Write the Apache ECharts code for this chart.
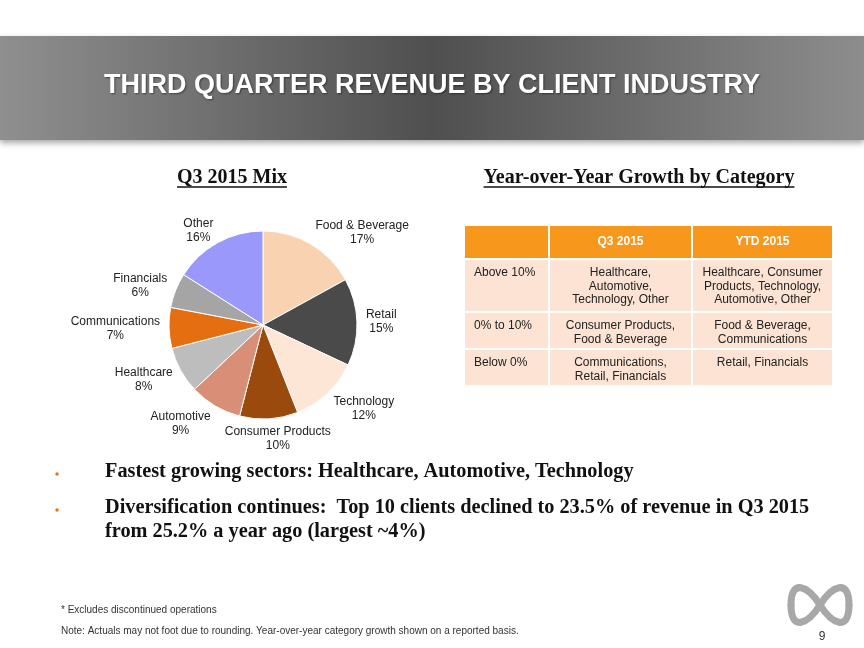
<!DOCTYPE html>
<html>
<head>
<meta charset="utf-8">
<script src="https://cdn.jsdelivr.net/npm/echarts/dist/echarts.min.js"></script>
<style>
html,body{margin:0;padding:0;background:#fff;}
#chart{width:864px;height:648px;}
</style>
</head>
<body>
<div id="chart"></div>
<script>
// ---- data ----
const pieCategories = ['Food & Beverage','Retail','Technology','Consumer Products','Automotive','Healthcare','Communications','Financials','Other'];
const pieValues = [17,15,12,10,9,8,7,6,16];
const pieColors = ['#f9d2b2','#4a4a4a','#fde6d6','#994a0c','#d98f77','#bdbdbd','#e56f10','#a5a5a5','#9a99fb'];

const tableHeaders = ['', 'Q3 2015', 'YTD 2015'];
const tableRowLabels = ['Above 10%', '0% to 10%', 'Below 0%'];
const tableQ3 = ['Healthcare,\nAutomotive,\nTechnology, Other', 'Consumer Products,\nFood & Beverage', 'Communications,\nRetail, Financials'];
const tableYTD = ['Healthcare, Consumer\nProducts, Technology,\nAutomotive, Other', 'Food & Beverage,\nCommunications', 'Retail, Financials'];

const titleText = 'THIRD QUARTER REVENUE BY CLIENT INDUSTRY';
const leftHeading = 'Q3 2015 Mix';
const rightHeading = 'Year-over-Year Growth by Category';
const bullets = [
  ['Fastest growing sectors: Healthcare, Automotive, Technology'],
  ['Diversification continues:  Top 10 clients declined to 23.5% of revenue in Q3 2015', 'from 25.2% a year ago (largest ~4%)']
];
const footnotes = ['* Excludes discontinued operations', 'Note: Actuals may not foot due to rounding. Year-over-year category growth shown on a reported basis.'];
const pageNumber = '9';

// ---- helpers ----
const SANS = 'Liberation Sans, Arial, sans-serif';
const SERIF = 'Liberation Serif, Times New Roman, serif';
const mctx = document.createElement('canvas').getContext('2d');
function textWidth(t, font){ mctx.font = font; return mctx.measureText(t).width; }

const chart = echarts.init(document.getElementById('chart'), null, {renderer:'canvas'});
const graphics = [];

// header band
graphics.push({
  type:'rect', shape:{x:0,y:36,width:864,height:104}, z:0,
  style:{
    fill:new echarts.graphic.LinearGradient(0,0,1,0,[
      {offset:0,color:'#8f8f8f'},{offset:0.5,color:'#4f4f4f'},{offset:1,color:'#8d8d8d'}
    ]),
    shadowBlur:6, shadowColor:'rgba(0,0,0,0.35)', shadowOffsetY:3
  }
});
graphics.push({
  type:'text', x:432, y:86, z:2,
  style:{text:titleText, fill:'#ffffff', font:'bold 27px '+SANS, align:'center', verticalAlign:'middle',
    textShadowColor:'rgba(0,0,0,0.45)', textShadowBlur:2, textShadowOffsetX:1, textShadowOffsetY:1}
});

// headings with underline
function heading(t, cx, cy){
  const font = 'bold 20px ' + SERIF;
  const w = textWidth(t, font);
  graphics.push({type:'text', x:cx, y:cy, style:{text:t, fill:'#111', font:font, align:'center', verticalAlign:'middle'}});
  graphics.push({type:'line', shape:{x1:cx-w/2, y1:cy+9, x2:cx+w/2, y2:cy+9}, style:{stroke:'#111', lineWidth:1.5}});
}
heading(leftHeading, 232, 178);
heading(rightHeading, 639, 178);

// table
const colX = [465, 550, 693, 834];
const rowY = [226, 260, 313, 350, 387];
for (let c = 0; c < 3; c++) {
  graphics.push({type:'rect', shape:{x:colX[c], y:rowY[0], width:colX[c+1]-colX[c]-2, height:rowY[1]-rowY[0]-2}, style:{fill:'#f7971c'}});
  if (tableHeaders[c]) {
    graphics.push({type:'text', x:(colX[c]+colX[c+1]-2)/2, y:(rowY[0]+rowY[1]-2)/2,
      style:{text:tableHeaders[c], fill:'#fff', font:'bold 12px '+SANS, align:'center', verticalAlign:'middle'}});
  }
}
for (let r = 0; r < tableRowLabels.length; r++) {
  const top = rowY[r+1], h = rowY[r+2]-rowY[r+1]-2;
  const cells = [tableRowLabels[r], tableQ3[r], tableYTD[r]];
  for (let c = 0; c < 3; c++) {
    graphics.push({type:'rect', shape:{x:colX[c], y:top, width:colX[c+1]-colX[c]-2, height:h}, style:{fill:'#fce3d3'}});
    const isLabel = c === 0;
    graphics.push({type:'text', x: isLabel ? colX[c]+9 : (colX[c]+colX[c+1]-2)/2, y: top+6,
      style:{text:cells[c], fill:'#222', font:'12px '+SANS, lineHeight:13.5, align: isLabel ? 'left':'center', verticalAlign:'top'}});
  }
}

// bullets
const bulletFont = 'bold 20.3px ' + SERIF;
let by = 472;
bullets.forEach(lines => {
  graphics.push({type:'circle', shape:{cx:57, cy:by+2, r:1.7}, style:{fill:'#e8731a'}});
  lines.forEach(line => {
    graphics.push({type:'text', x:105, y:by, style:{text:line, fill:'#111', font:bulletFont, align:'left', verticalAlign:'middle'}});
    by += 24;
  });
  by += 12;
});

// footnotes
graphics.push({type:'text', x:61, y:610, style:{text:footnotes[0], fill:'#333', font:'10px '+SANS, verticalAlign:'middle'}});
graphics.push({type:'text', x:61, y:631, style:{text:footnotes[1], fill:'#333', font:'10px '+SANS, verticalAlign:'middle'}});
graphics.push({type:'text', x:822, y:637, style:{text:pageNumber, fill:'#333', font:'12px '+SANS, align:'center', verticalAlign:'middle'}});

// logo (infinity) from four bezier curves
const logoStyle = {fill:null, stroke:'#a8a8a8', lineWidth:7, lineCap:'round'};
[
  {x1:820,y1:605,cpx1:832,cpy1:586,cpx2:849,cpy2:578,x2:849,y2:605},
  {x1:849,y1:605,cpx1:849,cpy1:632,cpx2:832,cpy2:624,x2:820,y2:605},
  {x1:820,y1:605,cpx1:808,cpy1:586,cpx2:791,cpy2:578,x2:791,y2:605},
  {x1:791,y1:605,cpx1:791,cpy1:632,cpx2:808,cpy2:624,x2:820,y2:605}
].forEach(s => graphics.push({type:'bezierCurve', shape:s, style:logoStyle}));

const PIE_CENTER = [263, 325];
const PIE_R = 94;

const option = {
  backgroundColor:'#ffffff',
  animation:false,
  graphic: graphics,
  series:[{
    type:'pie',
    center: PIE_CENTER,
    radius: [0, PIE_R],
    startAngle: 90,
    clockwise: true,
    avoidLabelOverlap:false,
    data: pieCategories.map((n,i)=>({name:n, value:pieValues[i], itemStyle:{color:pieColors[i]}})),
    itemStyle:{borderColor:'#ffffff', borderWidth:1},
    label:{
      show:true, position:'outside',
      formatter: p => p.name + '\n' + p.value + '%',
      fontFamily: SANS, fontSize:12, lineHeight:14, color:'#222'
    },
    labelLine:{show:true, length:9, length2:0, lineStyle:{opacity:0}},
    labelLayout: function(p){
      const pts = p.labelLinePoints;
      if (!pts) return {};
      const dx = pts[1][0]-pts[0][0], dy = pts[1][1]-pts[0][1];
      const len = Math.sqrt(dx*dx+dy*dy) || 1;
      const ux = dx/len, uy = dy/len;
      const fx = Math.max(-1, Math.min(1, ux*2.5));
      const fy = uy > 0 ? 0.8*uy : 0.3*uy;
      const w = p.labelRect.width, h = p.labelRect.height;
      return {
        x: pts[1][0] + fx*w/2,
        y: pts[1][1] + fy*h/2,
        align:'center', verticalAlign:'middle'
      };
    }
  }]
};
chart.setOption(option);
</script>
</body>
</html>
